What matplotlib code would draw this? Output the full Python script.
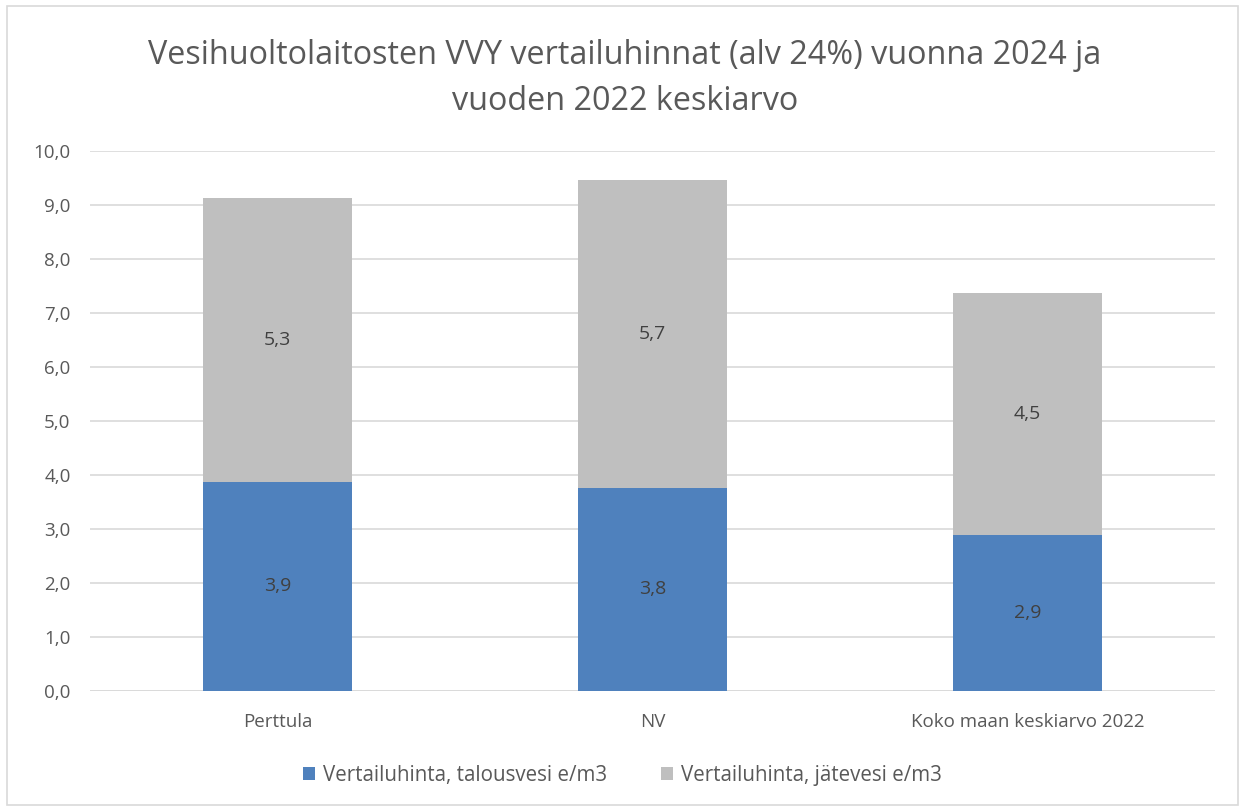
import matplotlib
matplotlib.use("Agg")
import matplotlib.pyplot as plt
from matplotlib.patches import Rectangle

categories = ["Perttula", "NV", "Koko maan keskiarvo 2022"]
talousvesi = [3.87, 3.76, 2.89]
jatevesi = [5.26, 5.70, 4.48]
series_names = ["Vertailuhinta, talousvesi e/m3", "Vertailuhinta, jätevesi e/m3"]
yticks = [0, 1, 2, 3, 4, 5, 6, 7, 8, 9, 10]
title = "Vesihuoltolaitosten VVY vertailuhinnat (alv 24%) vuonna 2024 ja\nvuoden 2022 keskiarvo"

plt.rcParams['font.family'] = ['Open Sans', 'DejaVu Sans']

fig = plt.figure(figsize=(12.45, 8.09), dpi=100)
fig.patch.set_facecolor("white")
fig.add_artist(Rectangle((0.006, 0.005), 0.988, 0.988, transform=fig.transFigure,
                         fill=False, edgecolor="#D9D9D9", linewidth=1.2))

ax = fig.add_axes([0.0723, 0.1459, 0.9037, 0.6674])
x = list(range(len(categories)))
w = 0.397
b1 = ax.bar(x, talousvesi, width=w, color="#4F81BD", label=series_names[0], zorder=3)
b2 = ax.bar(x, jatevesi, width=w, bottom=talousvesi, color="#BFBFBF", label=series_names[1], zorder=3)

for bars in (b1, b2):
    for r in bars:
        h = r.get_height()
        ax.text(r.get_x() + r.get_width() / 2, r.get_y() + h / 2,
                f"{h:.1f}".replace(".", ","), ha="center", va="center",
                fontsize=14, color="#404040", zorder=4)

ax.set_xlim(-0.5, 2.5)
ax.set_ylim(0, 10)
ax.set_yticks(yticks)
ax.set_yticklabels([f"{v:.1f}".replace(".", ",") for v in yticks], fontsize=13.5, color="#595959")
ax.set_xticks(x)
ax.set_xticklabels(categories, fontsize=13.5, color="#595959")
ax.tick_params(axis="both", length=0)
ax.tick_params(axis="y", pad=14)
ax.tick_params(axis="x", pad=16)
ax.grid(axis="y", color="#D9D9D9", linewidth=1.2, zorder=0)
for s in ax.spines.values():
    s.set_visible(False)
ax.axhline(0, color="#D9D9D9", linewidth=1.2, zorder=2)

fig.text(0.502, 0.903, title, ha="center", va="center", fontsize=23.3,
         color="#595959", linespacing=1.55)

fig.legend(handles=[b1, b2], labels=series_names, loc="center", bbox_to_anchor=(0.5, 0.042),
           ncol=2, frameon=False, fontsize=14.8, labelcolor="#595959",
           handlelength=0.6, handleheight=0.6, handletextpad=0.4, columnspacing=2.6)

fig.savefig("out.png", dpi=100, facecolor="white")
